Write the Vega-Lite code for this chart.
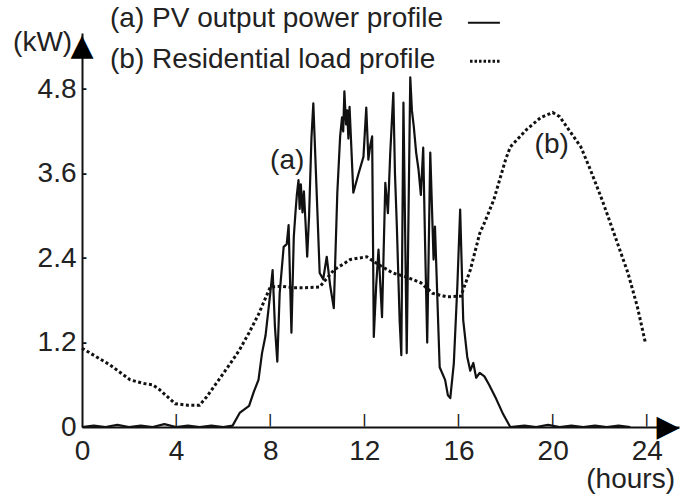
{
  "$schema": "https://vega.github.io/schema/vega-lite/v6.json",
  "autosize": "none",
  "width": 597,
  "height": 394,
  "padding": {"left": 82, "top": 33, "right": 2, "bottom": 72},
  "background": "white",
  "data": {"values": [{"note": "annotation"}]},
  "config": {
    "view": {"stroke": null},
    "font": "Liberation Sans",
    "axis": {
      "grid": false,
      "ticks": false,
      "domainColor": "#111",
      "domainWidth": 2,
      "labelFont": "Liberation Sans",
      "labelFontSize": 28,
      "labelColor": "#222",
      "title": null
    }
  },
  "datasets": {
    "pv": [
      {"hour": 0, "kW": 0}, {"hour": 0.5, "kW": 0.02}, {"hour": 1.0, "kW": 0}, {"hour": 1.5, "kW": 0.03},
      {"hour": 2.0, "kW": 0}, {"hour": 2.5, "kW": 0.02}, {"hour": 3.0, "kW": 0}, {"hour": 3.5, "kW": 0.04},
      {"hour": 4.0, "kW": 0}, {"hour": 4.5, "kW": 0.02}, {"hour": 5.0, "kW": 0}, {"hour": 5.5, "kW": 0.02},
      {"hour": 6.0, "kW": 0}, {"hour": 6.4, "kW": 0.02}, {"hour": 6.7, "kW": 0.2}, {"hour": 7.1, "kW": 0.3},
      {"hour": 7.3, "kW": 0.5}, {"hour": 7.5, "kW": 0.67}, {"hour": 7.65, "kW": 1.05}, {"hour": 7.8, "kW": 1.3},
      {"hour": 8.0, "kW": 1.9}, {"hour": 8.1, "kW": 2.23}, {"hour": 8.2, "kW": 1.42}, {"hour": 8.3, "kW": 0.93},
      {"hour": 8.4, "kW": 1.9}, {"hour": 8.57, "kW": 2.56}, {"hour": 8.7, "kW": 2.6}, {"hour": 8.78, "kW": 2.87}, {"hour": 8.9, "kW": 1.34},
      {"hour": 9.0, "kW": 2.7}, {"hour": 9.07, "kW": 3.04}, {"hour": 9.13, "kW": 3.3}, {"hour": 9.2, "kW": 3.51}, {"hour": 9.25, "kW": 3.1}, {"hour": 9.3, "kW": 3.45}, {"hour": 9.37, "kW": 3.05}, {"hour": 9.43, "kW": 3.35},
      {"hour": 9.5, "kW": 2.9}, {"hour": 9.57, "kW": 2.42}, {"hour": 9.65, "kW": 3.0}, {"hour": 9.75, "kW": 4.1}, {"hour": 9.83, "kW": 4.6},
      {"hour": 10.0, "kW": 3.09}, {"hour": 10.1, "kW": 2.19}, {"hour": 10.25, "kW": 2.1}, {"hour": 10.4, "kW": 2.42},
      {"hour": 10.55, "kW": 2.0}, {"hour": 10.7, "kW": 1.69}, {"hour": 10.85, "kW": 3.33}, {"hour": 10.97, "kW": 4.13},
      {"hour": 11.05, "kW": 4.4}, {"hour": 11.1, "kW": 4.2}, {"hour": 11.15, "kW": 4.77}, {"hour": 11.22, "kW": 4.3}, {"hour": 11.27, "kW": 4.5}, {"hour": 11.32, "kW": 4.1}, {"hour": 11.37, "kW": 4.55}, {"hour": 11.53, "kW": 3.33},
      {"hour": 11.75, "kW": 3.6}, {"hour": 11.96, "kW": 3.84}, {"hour": 12.08, "kW": 4.54}, {"hour": 12.17, "kW": 3.8},
      {"hour": 12.25, "kW": 4.0}, {"hour": 12.33, "kW": 4.13}, {"hour": 12.4, "kW": 1.28}, {"hour": 12.5, "kW": 2.0}, {"hour": 12.6, "kW": 2.52}, {"hour": 12.75, "kW": 1.56},
      {"hour": 12.89, "kW": 3.47}, {"hour": 13.0, "kW": 3.04}, {"hour": 13.1, "kW": 3.9}, {"hour": 13.23, "kW": 4.75},
      {"hour": 13.3, "kW": 3.6}, {"hour": 13.38, "kW": 2.85}, {"hour": 13.5, "kW": 1.5}, {"hour": 13.57, "kW": 1.02}, {"hour": 13.66, "kW": 4.61},
      {"hour": 13.8, "kW": 1.05}, {"hour": 13.95, "kW": 4.97}, {"hour": 14.02, "kW": 4.5}, {"hour": 14.1, "kW": 4.27}, {"hour": 14.2, "kW": 3.9}, {"hour": 14.3, "kW": 3.66},
      {"hour": 14.4, "kW": 3.3}, {"hour": 14.5, "kW": 3.97}, {"hour": 14.58, "kW": 2.6}, {"hour": 14.67, "kW": 1.2}, {"hour": 14.8, "kW": 3.9},
      {"hour": 14.94, "kW": 2.38}, {"hour": 15.0, "kW": 2.85}, {"hour": 15.15, "kW": 1.34}, {"hour": 15.2, "kW": 0.85},
      {"hour": 15.43, "kW": 0.67}, {"hour": 15.55, "kW": 0.45}, {"hour": 15.65, "kW": 0.41}, {"hour": 15.8, "kW": 0.9},
      {"hour": 15.95, "kW": 2.0}, {"hour": 16.07, "kW": 3.09}, {"hour": 16.2, "kW": 1.52}, {"hour": 16.37, "kW": 1.0},
      {"hour": 16.5, "kW": 0.8}, {"hour": 16.63, "kW": 0.91}, {"hour": 16.75, "kW": 0.7}, {"hour": 16.9, "kW": 0.77}, {"hour": 17.1, "kW": 0.72}, {"hour": 17.3, "kW": 0.6},
      {"hour": 17.6, "kW": 0.4}, {"hour": 17.9, "kW": 0.18}, {"hour": 18.2, "kW": 0}, {"hour": 18.8, "kW": 0.02},
      {"hour": 19.3, "kW": 0}, {"hour": 19.8, "kW": 0.03}, {"hour": 20.3, "kW": 0}, {"hour": 20.8, "kW": 0.02},
      {"hour": 21.3, "kW": 0}, {"hour": 21.8, "kW": 0.02}, {"hour": 22.3, "kW": 0}, {"hour": 22.8, "kW": 0.02},
      {"hour": 23.3, "kW": 0}
    ],
    "load": [
      {"hour": 0, "kW": 1.12}, {"hour": 0.6, "kW": 1.0}, {"hour": 1.2, "kW": 0.88}, {"hour": 2.05, "kW": 0.67},
      {"hour": 2.6, "kW": 0.62}, {"hour": 3.0, "kW": 0.6}, {"hour": 3.3, "kW": 0.53}, {"hour": 3.96, "kW": 0.33},
      {"hour": 4.5, "kW": 0.31}, {"hour": 5.0, "kW": 0.31}, {"hour": 5.3, "kW": 0.43}, {"hour": 5.9, "kW": 0.71},
      {"hour": 6.3, "kW": 0.9}, {"hour": 6.7, "kW": 1.1}, {"hour": 7.1, "kW": 1.34}, {"hour": 7.5, "kW": 1.6},
      {"hour": 8.0, "kW": 1.99}, {"hour": 8.5, "kW": 2.0}, {"hour": 9.0, "kW": 1.98}, {"hour": 9.5, "kW": 1.98},
      {"hour": 10.1, "kW": 1.99}, {"hour": 10.7, "kW": 2.23}, {"hour": 11.4, "kW": 2.38}, {"hour": 12.1, "kW": 2.42},
      {"hour": 12.5, "kW": 2.33}, {"hour": 13.2, "kW": 2.19}, {"hour": 13.8, "kW": 2.13}, {"hour": 14.4, "kW": 2.05},
      {"hour": 14.9, "kW": 1.9}, {"hour": 15.5, "kW": 1.85}, {"hour": 16.1, "kW": 1.86}, {"hour": 16.5, "kW": 2.23},
      {"hour": 16.9, "kW": 2.75}, {"hour": 17.1, "kW": 2.9}, {"hour": 17.5, "kW": 3.23}, {"hour": 18.0, "kW": 3.8},
      {"hour": 18.2, "kW": 3.98}, {"hour": 18.9, "kW": 4.23}, {"hour": 19.5, "kW": 4.4}, {"hour": 20.0, "kW": 4.47},
      {"hour": 20.3, "kW": 4.41}, {"hour": 21.2, "kW": 3.98}, {"hour": 21.6, "kW": 3.66}, {"hour": 22.1, "kW": 3.23},
      {"hour": 22.6, "kW": 2.76}, {"hour": 23.2, "kW": 2.19}, {"hour": 23.6, "kW": 1.71}, {"hour": 23.94, "kW": 1.2}
    ],
    "xticks": [{"hour": 4}, {"hour": 8}, {"hour": 12}, {"hour": 16}, {"hour": 20}, {"hour": 24}],
    "yticks": [{"kW": 1.2}, {"kW": 2.4}, {"kW": 3.6}, {"kW": 4.8}]
  },
  "layer": [
    {
      "data": {"name": "load"},
      "mark": {"type": "line", "color": "#111", "strokeWidth": 3, "strokeDash": [3, 2.5], "strokeCap": "butt"},
      "encoding": {
        "x": {
          "field": "hour", "type": "quantitative",
          "scale": {"domain": [0, 25.37], "nice": false, "zero": false},
          "axis": {"values": [0, 4, 8, 12, 16, 20, 24], "labelPadding": 10, "labelFlush": false, "labelOverlap": false}
        },
        "y": {
          "field": "kW", "type": "quantitative",
          "scale": {"domain": [0, 5.6], "nice": false, "zero": false},
          "axis": {"values": [0, 1.2, 2.4, 3.6, 4.8], "labelPadding": 6,
                   "labelExpr": "datum.value == 0 ? '0' : format(datum.value, '.1f')", "labelFlush": false, "labelOverlap": false}
        }
      }
    },
    {
      "data": {"name": "pv"},
      "mark": {"type": "line", "color": "#111", "strokeWidth": 2.2, "strokeJoin": "round"},
      "encoding": {
        "x": {"field": "hour", "type": "quantitative"},
        "y": {"field": "kW", "type": "quantitative"}
      }
    },
    {
      "data": {"name": "xticks"},
      "mark": {"type": "text", "text": "|", "align": "center", "baseline": "bottom", "fontSize": 12, "fontWeight": "bold", "color": "#111", "font": "DejaVu Sans"},
      "encoding": {"x": {"field": "hour", "type": "quantitative"}, "y": {"datum": 0.001}}
    },
    {
      "data": {"name": "yticks"},
      "mark": {"type": "text", "text": "-", "align": "left", "baseline": "middle", "fontSize": 12, "fontWeight": "bold", "color": "#111", "font": "DejaVu Sans"},
      "encoding": {"y": {"field": "kW", "type": "quantitative"}, "x": {"datum": 0.001}}
    },
    {
      "mark": {"type": "rule", "color": "#111", "strokeWidth": 2},
      "encoding": {"x": {"datum": 16.4}, "x2": {"datum": 17.76}, "y": {"datum": 5.746}}
    },
    {
      "mark": {"type": "rule", "color": "#111", "strokeWidth": 3, "strokeDash": [2.5, 2], "strokeCap": "butt"},
      "encoding": {"x": {"datum": 16.49}, "x2": {"datum": 17.76}, "y": {"datum": 5.2}}
    },
    {
      "mark": {"type": "text", "text": "▲", "align": "center", "baseline": "middle", "fontSize": 30, "color": "#000", "font": "DejaVu Sans"},
      "encoding": {"x": {"datum": 0.001}, "y": {"datum": 5.42}}
    },
    {
      "mark": {"type": "text", "text": "▶", "align": "center", "baseline": "middle", "fontSize": 30, "color": "#000", "font": "DejaVu Sans"},
      "encoding": {"x": {"datum": 24.9}, "y": {"datum": 0.001}}
    },
    {
      "mark": {"type": "text", "text": "(a) PV output power profile", "align": "left", "baseline": "alphabetic", "fontSize": 28, "color": "#222", "font": "Liberation Sans"},
      "encoding": {"x": {"datum": 1.19}, "y": {"datum": 5.685}}
    },
    {
      "mark": {"type": "text", "text": "(b) Residential load profile", "align": "left", "baseline": "alphabetic", "fontSize": 28, "color": "#222", "font": "Liberation Sans"},
      "encoding": {"x": {"datum": 1.19}, "y": {"datum": 5.107}}
    },
    {
      "mark": {"type": "text", "text": "(kW)", "align": "left", "baseline": "alphabetic", "fontSize": 28, "color": "#222", "font": "Liberation Sans"},
      "encoding": {"x": {"datum": -2.93}, "y": {"datum": 5.344}}
    },
    {
      "mark": {"type": "text", "text": "(hours)", "align": "right", "baseline": "alphabetic", "fontSize": 28, "color": "#222", "font": "Liberation Sans"},
      "encoding": {"x": {"datum": 25.2}, "y": {"datum": -0.867}}
    },
    {
      "mark": {"type": "text", "text": "(a)", "align": "center", "baseline": "middle", "fontSize": 28, "color": "#222", "font": "Liberation Sans"},
      "encoding": {"x": {"datum": 8.72}, "y": {"datum": 3.78}}
    },
    {
      "mark": {"type": "text", "text": "(b)", "align": "center", "baseline": "middle", "fontSize": 28, "color": "#222", "font": "Liberation Sans"},
      "encoding": {"x": {"datum": 19.96}, "y": {"datum": 4.01}}
    }
  ]
}
